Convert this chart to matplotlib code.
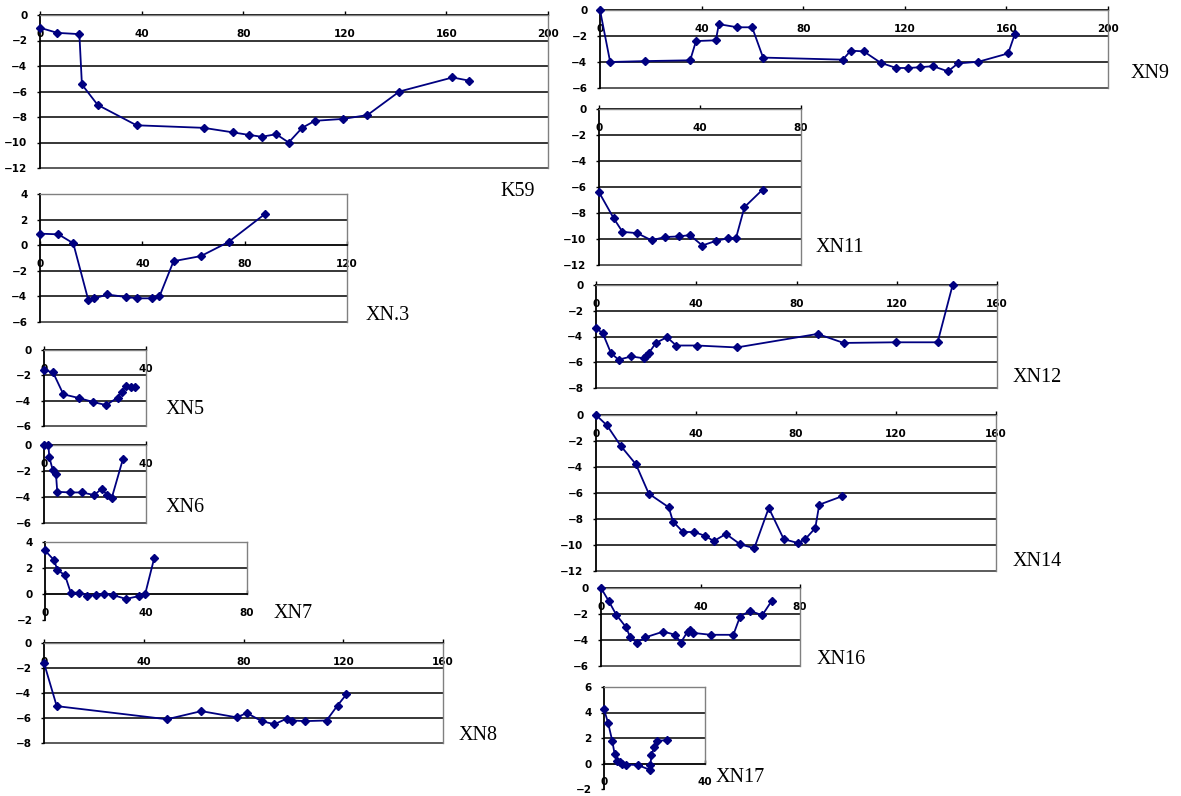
import numpy as np
import matplotlib
matplotlib.use("agg")
from matplotlib import pyplot as plt

plt.rcParams["font.family"] = ["DejaVu Sans"]
plt.rcParams["font.weight"] = "bold"

W, H = 1181, 796
NAVY = "#000080"

# distance / elevation for each cross section
k59_x = [0, 6.8, 15.5, 16.5, 22.7, 38, 64.4, 75.8, 82.1, 87.3, 93, 97.9, 103.2, 108.2, 119.3, 128.9, 141.5, 162.4, 169]
k59_y = [-1.0, -1.4, -1.5, -5.45, -7.05, -8.65, -8.85, -9.2, -9.4, -9.55, -9.35, -10.0, -8.85, -8.3, -8.15, -7.85, -6.0, -4.9, -5.15]

xn3_x = [0, 7.2, 13, 18.9, 21.3, 26.3, 33.6, 38.1, 43.7, 46.7, 52.2, 62.9, 73.7, 88]
xn3_y = [0.9, 0.85, 0.15, -4.3, -4.15, -3.85, -4.05, -4.15, -4.15, -4.0, -1.25, -0.85, 0.25, 2.45]

xn5_x = [0, 3.5, 7.6, 13.9, 19.1, 24.4, 28.9, 30.5, 32.2, 34.0, 35.5]
xn5_y = [-1.6, -1.75, -3.5, -3.8, -4.1, -4.35, -3.75, -3.3, -2.85, -2.95, -2.95]

xn6_x = [0, 1.7, 2.1, 3.4, 4.7, 5.2, 10.2, 14.8, 19.7, 22.7, 24.7, 26.6, 31]
xn6_y = [0.0, 0.0, -0.95, -1.9, -2.25, -3.6, -3.65, -3.65, -3.85, -3.35, -3.85, -4.05, -1.05]

xn7_x = [0, 3.6, 4.9, 7.9, 10.2, 13.6, 16.8, 20.1, 23.5, 26.9, 32.1, 37.4, 39.7, 43.3]
xn7_y = [3.35, 2.6, 1.85, 1.45, 0.1, 0.1, -0.12, -0.08, 0.02, -0.08, -0.38, -0.15, 0.02, 2.8]

xn8_x = [0, 5.1, 49.3, 63.1, 77.3, 81.3, 87.3, 92.4, 97.3, 99.6, 104.7, 113.3, 117.7, 121.3]
xn8_y = [-1.6, -5.05, -6.1, -5.45, -5.95, -5.6, -6.25, -6.5, -6.05, -6.2, -6.25, -6.2, -5.0, -4.1]

xn9_x = [0, 4, 17.9, 35.5, 37.8, 45.6, 46.8, 54.1, 59.9, 64.2, 95.6, 98.7, 103.8, 110.5, 116.6, 121.4, 126.1, 131.1, 137, 140.9, 149, 160.7, 163.3]
xn9_y = [0, -4.0, -3.93, -3.87, -2.39, -2.33, -1.09, -1.33, -1.33, -3.66, -3.82, -3.13, -3.18, -4.06, -4.46, -4.46, -4.4, -4.32, -4.72, -4.11, -3.98, -3.34, -1.86]

xn11_x = [0, 5.8, 9.3, 15.1, 20.8, 26.1, 31.7, 36, 40.9, 46.2, 50.9, 54.3, 57.6, 64.8]
xn11_y = [-6.4, -8.4, -9.45, -9.55, -10.1, -9.85, -9.8, -9.7, -10.5, -10.15, -9.95, -9.9, -7.55, -6.2]

xn12_x = [0, 2.7, 6.0, 9.0, 14.1, 19.3, 20.1, 21, 23.9, 28.3, 32, 40.3, 56.2, 88.4, 98.8, 119.7, 136.3, 142.3]
xn12_y = [-3.35, -3.75, -5.3, -5.8, -5.55, -5.7, -5.5, -5.3, -4.5, -4.05, -4.7, -4.7, -4.85, -3.8, -4.5, -4.45, -4.45, 0]

xn14_x = [0, 4.4, 10, 16, 21.1, 29.1, 30.8, 34.8, 39.3, 43.7, 47.1, 52, 57.7, 63.3, 69.1, 75.1, 80.8, 83.7, 87.7, 89.3, 98.4]
xn14_y = [0, -0.8, -2.4, -3.8, -6.05, -7.1, -8.2, -9.0, -9.0, -9.3, -9.7, -9.15, -9.95, -10.25, -7.15, -9.55, -9.85, -9.55, -8.7, -6.9, -6.25]

xn16_x = [0, 3.1, 6.1, 10, 11.8, 14.4, 17.8, 25.1, 29.8, 32.1, 34.8, 35.6, 36.9, 44.1, 53.2, 55.9, 59.9, 64.8, 68.6]
xn16_y = [0, -1.0, -2.05, -3.0, -3.8, -4.2, -3.8, -3.35, -3.6, -4.2, -3.35, -3.2, -3.45, -3.6, -3.6, -2.2, -1.75, -2.1, -1.0]

xn17_x = [0, 1.6, 3.3, 4.2, 5.2, 6.2, 7.2, 8.6, 13.5, 18.1, 18.4, 18.8, 19.9, 20.8, 24.8]
xn17_y = [4.25, 3.2, 1.75, 0.75, 0.2, 0.08, 0.0, -0.08, -0.12, -0.5, -0.08, 0.65, 1.3, 1.78, 1.83]

# name, x, y, (left, right, top, bottom) in px, xmax, ymin, ymax, label centre
panels = [
    ("K59", k59_x, k59_y, (40, 548, 15, 168), 200, -12, 0, (518, 191)),
    ("XN.3", xn3_x, xn3_y, (40, 347, 194, 322), 120, -6, 4, (388, 315)),
    ("XN5", xn5_x, xn5_y, (44, 146, 350, 426), 40, -6, 0, (185, 410)),
    ("XN6", xn6_x, xn6_y, (44, 146, 445, 523), 40, -6, 0, (185, 507)),
    ("XN7", xn7_x, xn7_y, (45, 247, 542, 620), 80, -2, 4, (293, 614)),
    ("XN8", xn8_x, xn8_y, (44, 443, 643, 743), 160, -8, 0, (478, 736)),
    ("XN9", xn9_x, xn9_y, (600, 1108, 10, 88), 200, -6, 0, (1150, 73)),
    ("XN11", xn11_x, xn11_y, (599, 801, 109, 265), 80, -12, 0, (840, 247)),
    ("XN12", xn12_x, xn12_y, (596, 997, 285, 388), 160, -8, 0, (1037, 377)),
    ("XN14", xn14_x, xn14_y, (596, 996, 415, 571), 160, -12, 0, (1037, 561)),
    ("XN16", xn16_x, xn16_y, (601, 800, 588, 666), 80, -6, 0, (841, 660)),
    ("XN17", xn17_x, xn17_y, (604, 705, 687, 789), 40, -2, 6, (740, 777)),
]

fig = plt.figure(figsize=(W / 100, H / 100), dpi=100)

for name, xs, ys, (l, r, t, b), xmax, ylo, yhi, (lx, ly) in panels:
    ax = fig.add_axes([l / W, 1 - b / H, (r - l) / W, (b - t) / H])
    ax.set_xlim(0, xmax)
    ax.set_ylim(ylo, yhi)
    ax.set_xticks(np.arange(0, xmax + 1, 40))
    yt = np.arange(ylo, yhi + 1, 2)
    ax.set_yticks(yt)

    # excel style: x axis crosses at 0, grey frame for the plot area
    ax.spines["bottom"].set_position(("data", 0))
    ax.spines["bottom"].set_color("black")
    ax.spines["bottom"].set_linewidth(1.3)
    ax.spines["left"].set_color("black")
    ax.spines["left"].set_linewidth(1.3)
    for s in ("top", "right"):
        ax.spines[s].set_color("#808080")
        ax.spines[s].set_linewidth(1.0)
    if ylo == -2:
        # the strip under the axis is not boxed
        ax.spines["right"].set_bounds(0, yhi)
    else:
        ax.axhline(ylo, color="#404040", lw=1.2, clip_on=False, zorder=1)

    for v in yt:
        if ylo < v < yhi and v != 0:
            ax.axhline(v, color="black", lw=1.1, zorder=1)

    ax.tick_params(axis="x", direction="in", length=3, width=1, pad=10, labelsize=7.5)
    ax.tick_params(axis="y", direction="out", length=2, width=1, pad=7, labelsize=7.5)

    ax.plot(xs, ys, color=NAVY, lw=1.3, marker="D", markersize=4,
            markerfacecolor=NAVY, markeredgecolor=NAVY, clip_on=False, zorder=3)

    fig.text(lx / W, 1 - ly / H, name, ha="center", va="center",
             family="Liberation Serif", fontweight="normal", fontsize=14.5)

fig.savefig("out.png", dpi=100)
